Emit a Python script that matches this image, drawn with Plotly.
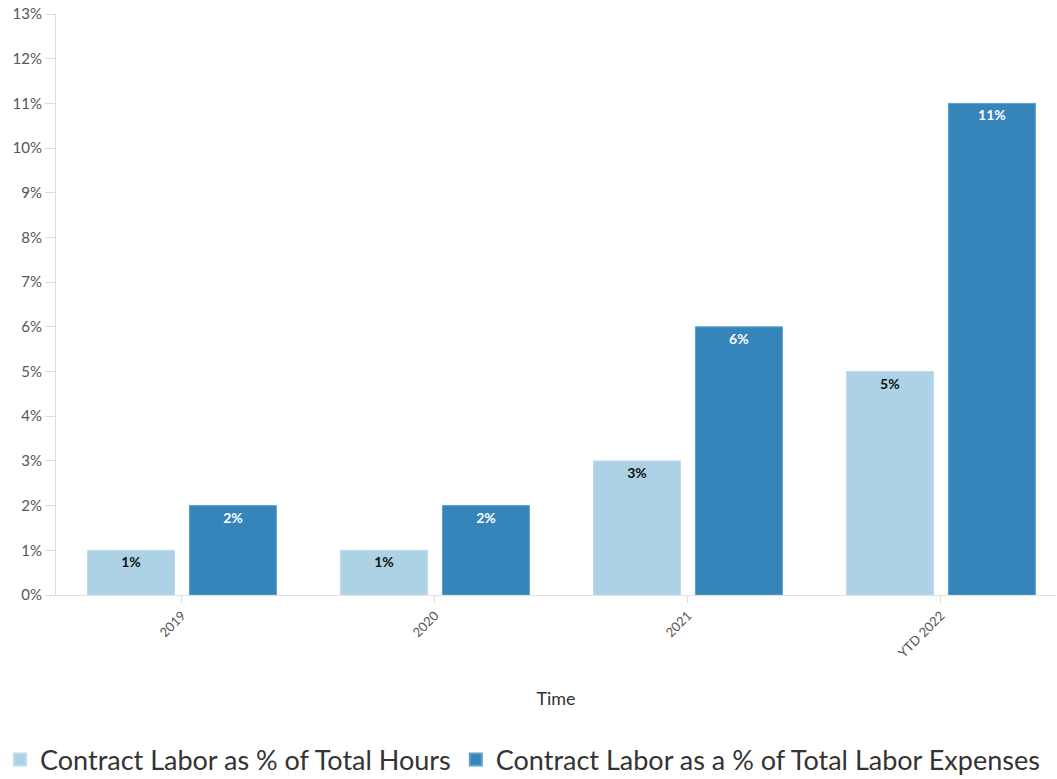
import plotly.graph_objects as go

categories = ["2019", "2020", "2021", "YTD 2022"]
hours_pct = [1, 1, 3, 5]
expenses_pct = [2, 2, 6, 11]
series_names = ["Contract Labor as % of Total Hours",
                "Contract Labor as a % of Total Labor Expenses"]

FONT = "'Source Sans Pro', Lato, 'Noto Sans', sans-serif"

fig = go.Figure()
fig.add_trace(go.Bar(
    x=categories, y=hours_pct, name=series_names[0],
    marker=dict(color="rgba(166,206,227,0.92)", line=dict(color="rgba(190,220,236,1)", width=1)),
    texttemplate="%{y}", textposition="inside", insidetextanchor="end",
    insidetextfont=dict(family=FONT, size=14, color="#111", weight="bold"),
    textangle=0,
))
fig.add_trace(go.Bar(
    x=categories, y=expenses_pct, name=series_names[1],
    marker=dict(color="rgba(31,120,180,0.9)", line=dict(color="rgba(90,160,205,1)", width=1)),
    texttemplate="%{y}", textposition="inside", insidetextanchor="end",
    insidetextfont=dict(family=FONT, size=14, color="white", weight="bold"),
    textangle=0,
))

fig.update_layout(
    width=1057, height=779,
    margin=dict(l=56, r=1, t=14, b=184, autoexpand=False),
    paper_bgcolor="white", plot_bgcolor="white",
    barmode="group", bargap=0.194, bargroupgap=0.147,
    font=dict(family=FONT, color="#444"),
    showlegend=True,
    legend=dict(orientation="h", x=-0.056, xanchor="left", y=-0.284, yanchor="middle",
                font=dict(size=27, color="#333"), itemsizing="constant",
                traceorder="normal"),
    xaxis=dict(
        range=[-0.498, 3.455], automargin=False,
        showline=True, linecolor="#e2e2e2", linewidth=1,
        ticks="outside", ticklen=7, tickcolor="#dddddd",
        tickangle=-45, tickfont=dict(size=13, color="#555"),
        title=dict(text="Time", font=dict(size=18, color="#333"), standoff=32),
        showgrid=False,
    ),
    yaxis=dict(
        range=[0, 13], dtick=1, ticksuffix="%", automargin=False,
        showline=True, linecolor="#dddddd", linewidth=1,
        ticks="outside", ticklen=10, tickcolor="#dddddd",
        tickfont=dict(size=15, color="#555"),
        showgrid=False, zeroline=False,
    ),
)

fig.write_html("out.html")
